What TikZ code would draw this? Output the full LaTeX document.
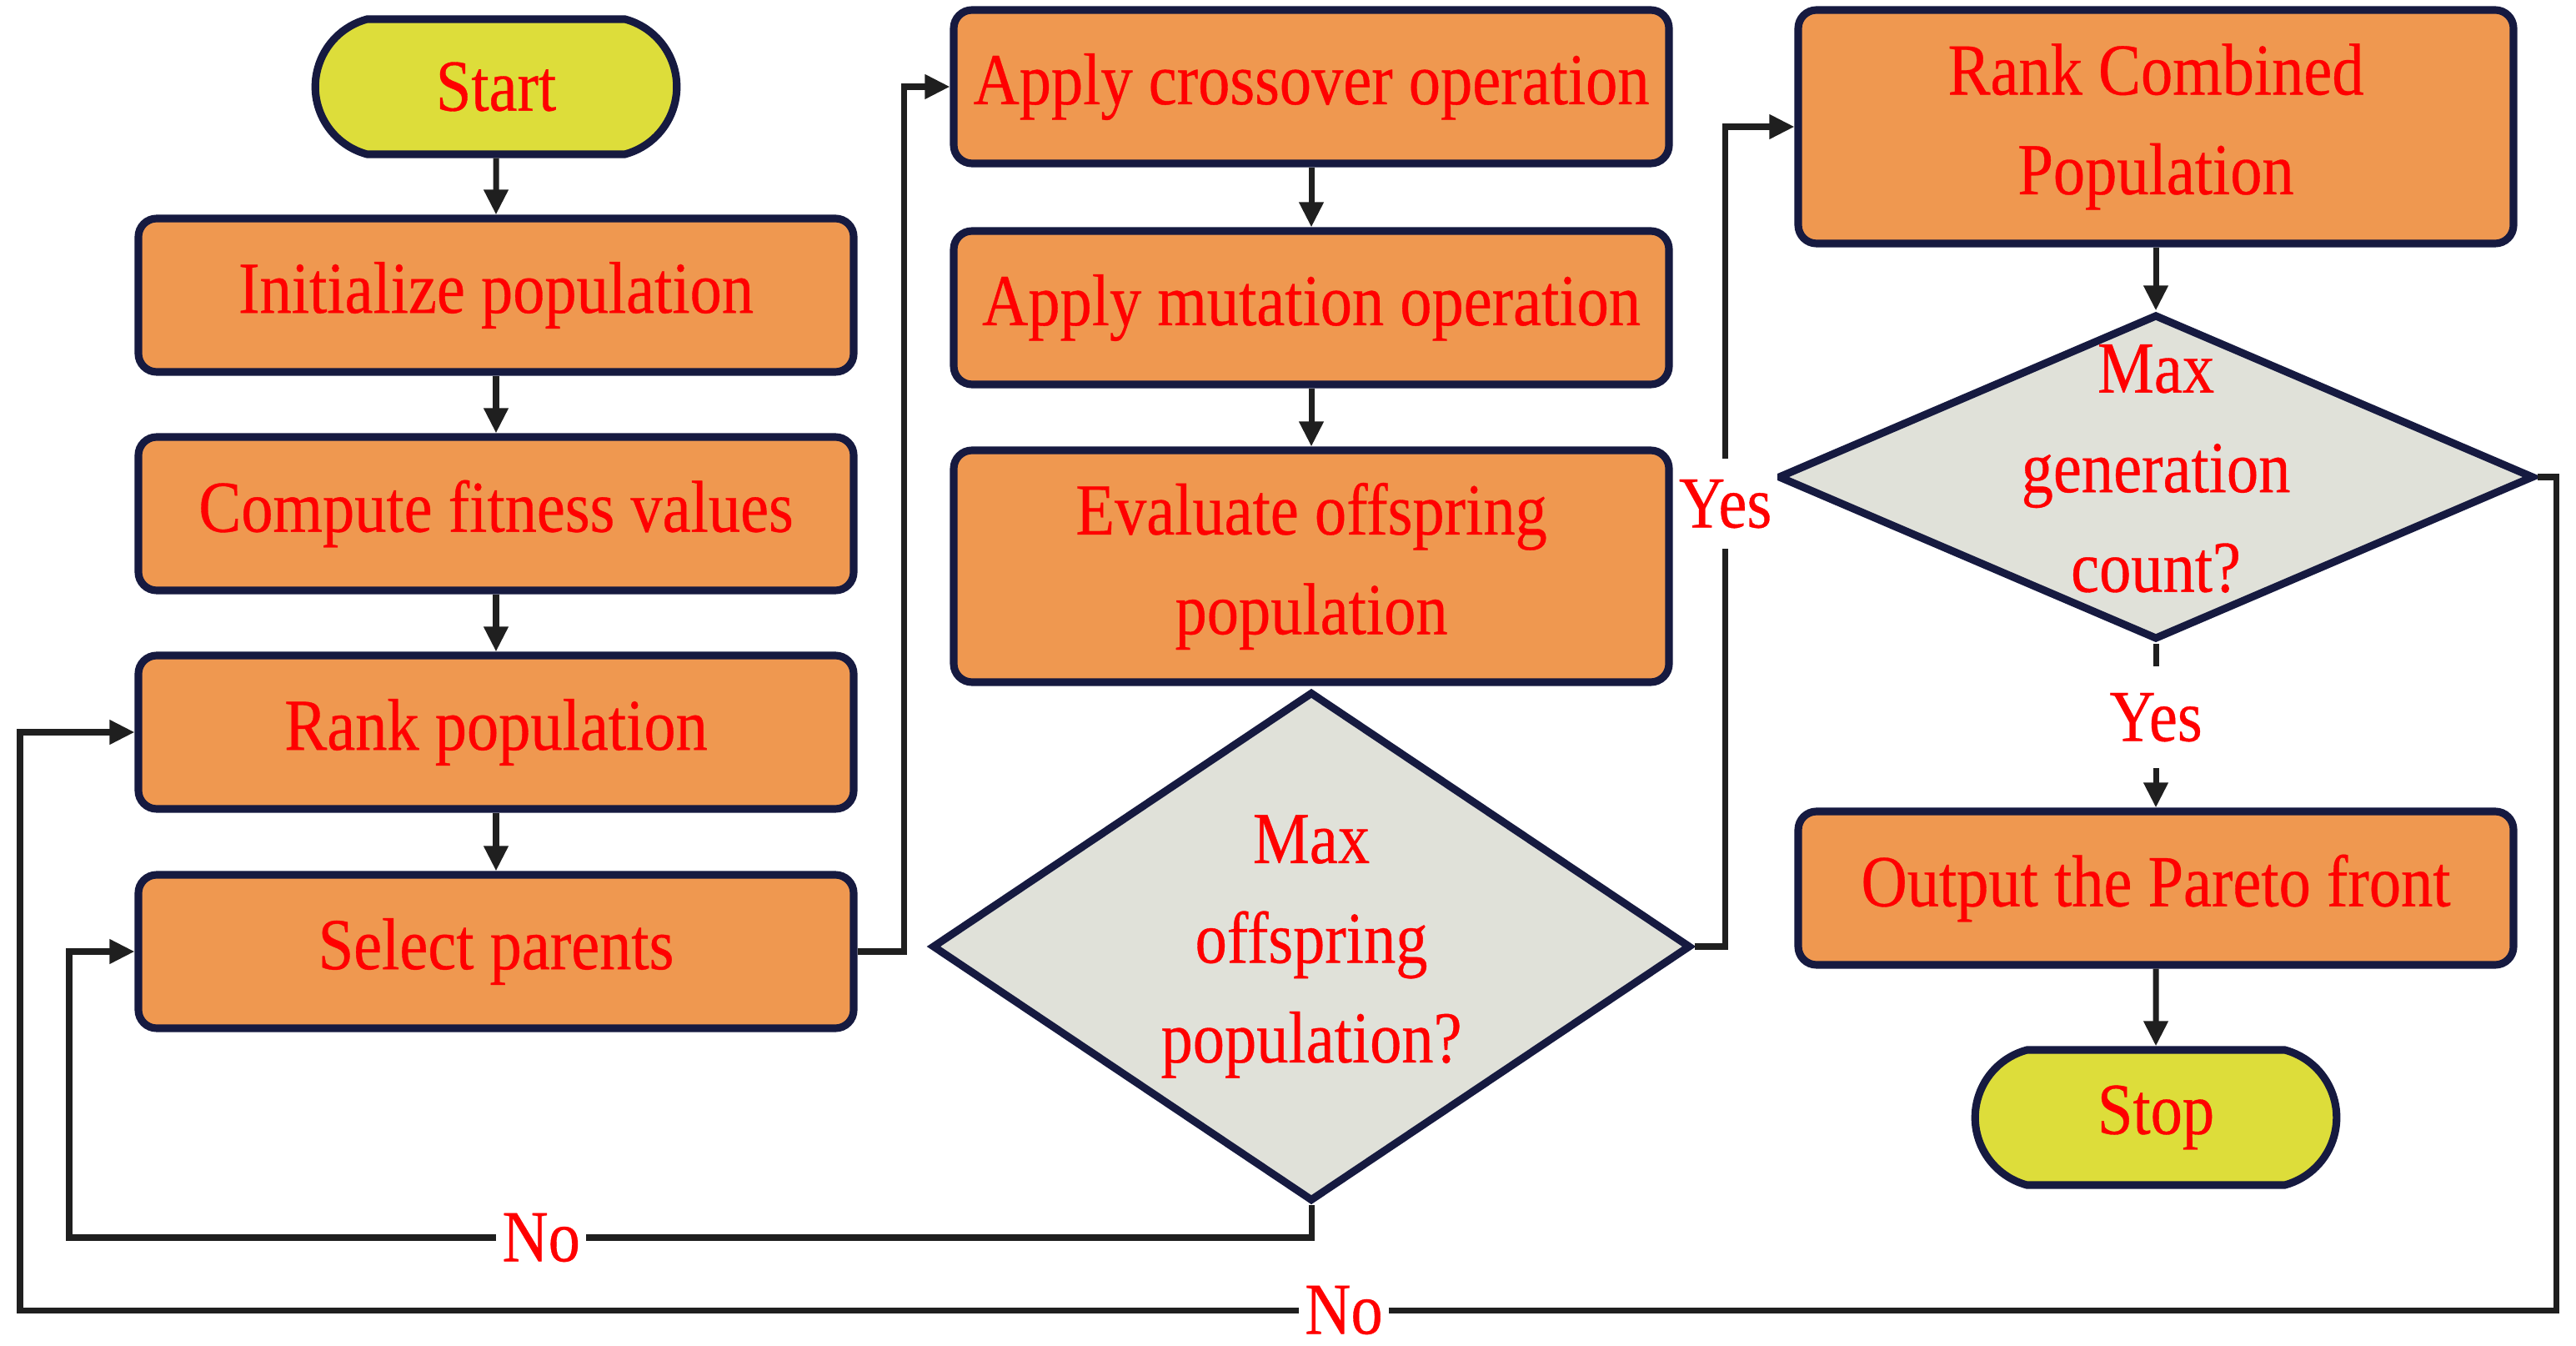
\documentclass[tikz,border=0pt]{standalone}
\usepackage{fontspec}
\setmainfont{Liberation Serif}[FakeStretch=0.87, FakeBold=0.4]
\usetikzlibrary{arrows.meta, shapes.geometric, shapes.misc}

\definecolor{boxorange}{RGB}{239,152,80}
\definecolor{termyellow}{RGB}{221,221,58}
\definecolor{decgray}{RGB}{224,225,217}
\definecolor{edgenavy}{RGB}{22,26,64}

\begin{document}
\begin{tikzpicture}[
    every node/.style={text=red, font=\fontsize{25}{34}\selectfont, align=center},
    proc/.style={draw=edgenavy, line width=2.6pt, fill=boxorange, rounded corners=0.22cm,
        minimum width=8.58cm, minimum height=1.84cm},
    term/.style={draw=edgenavy, line width=2.6pt, fill=termyellow, rounded rectangle,
        rounded rectangle arc length=150, minimum width=4.57cm, minimum height=1.62cm},
    dec/.style={draw=edgenavy, line width=2.6pt, fill=decgray, diamond, inner sep=0pt},
    lbl/.style={fill=white, inner xsep=2pt, inner ysep=7pt},
    arr/.style={-{Triangle[length=0.3cm,width=0.28cm]}, line width=2pt, draw=black!88}
]
    \useasboundingbox (0,0) rectangle (30.9,16.13);

    % Left column: set up the population
    \node[term] (start) at (5.95,15.09) {Start};
    \node[proc] (init) at (5.95,12.59) {Initialize population};
    \node[proc] (fit) at (5.95,9.97) {Compute fitness values};
    \node[proc] (rank) at (5.95,7.35) {Rank population};
    \node[proc] (select) at (5.95,4.72) {Select parents};

    % Middle column: build the offspring
    \node[proc] (cross) at (15.73,15.09) {Apply crossover operation};
    \node[proc] (mut) at (15.73,12.44) {Apply mutation operation};
    \node[proc, minimum height=2.78cm] (eval) at (15.73,9.34) {Evaluate offspring\\population};
    \node[dec, minimum width=9.1cm, minimum height=6.11cm, aspect=1.5] (dec1) at (15.73,4.78)
        {Max\\offspring\\population?};

    % Right column: merge and stop
    \node[proc, minimum height=2.8cm] (rcomb) at (25.86,14.61) {Rank Combined\\Population};
    \node[dec, minimum width=9.07cm, minimum height=3.9cm] (dec2) at (25.86,10.41) {};
    \node (dec2txt) at ([yshift=0.1cm]dec2.center) {Max\\generation\\count?};
    \node[proc] (pareto) at (25.86,5.48) {Output the Pareto front};
    \node[term] (stop) at (25.86,2.73) {Stop};

    % Loop corners
    \coordinate (nob) at (0.83,1.29);
    \coordinate (brc) at (30.66,0.42);
    \coordinate (blc) at (0.24,0.42);

    % Connectors
    \draw[arr] (start) -- (init);
    \draw[arr] (init) -- (fit);
    \draw[arr] (fit) -- (rank);
    \draw[arr] (rank) -- (select);
    \draw[arr] (select.east) -- ++(0.56,0) |- (cross.west);
    \draw[arr] (cross) -- (mut);
    \draw[arr] (mut) -- (eval);
    \draw[arr] (dec1.east) -- ++(0.37,0) |- node[lbl, pos=0.27] {Yes} (rcomb.west);
    \draw[arr] (dec1.south) |- node[lbl, pos=0.81] {No} (nob) |- (select.west);
    \draw[arr] (rcomb) -- (dec2);
    \draw[arr] (dec2) -- node[lbl, pos=0.45, inner ysep=9pt] {Yes} (pareto);
    \draw[arr] (pareto) -- (stop);
    \draw[arr] (dec2.east) -| (brc) -- node[lbl, pos=0.478] {No} (blc) |- (rank.west);
\end{tikzpicture}
\end{document}
